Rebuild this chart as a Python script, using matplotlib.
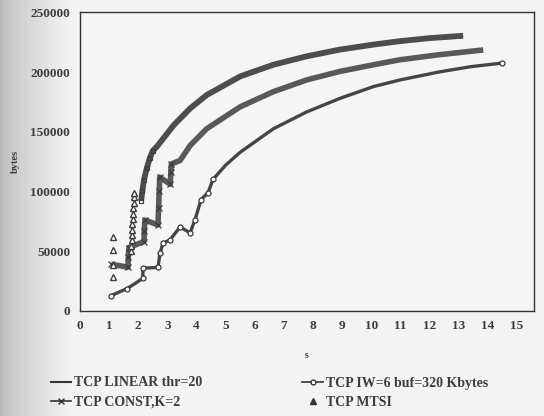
import numpy as np
import matplotlib
matplotlib.use('Agg')
import matplotlib.pyplot as plt
from matplotlib.lines import Line2D

# time (s) / received bytes for each TCP variant
lin_x = [2.1, 2.14, 2.2, 2.3, 2.4, 2.5, 2.64, 3.21, 3.78, 4.35, 5.5, 6.64, 7.79,
         8.93, 10.08, 11.0, 12.0, 13.16]
lin_y = [92000, 100000, 110000, 120000, 128000, 134000, 137500, 155300, 169500,
         180800, 196400, 206200, 213300, 218900, 223100, 226000, 228500, 230500]

const_x = [1.07, 1.65, 1.66, 1.68, 2.2, 2.21, 2.23, 2.68, 2.7, 2.72, 2.74, 3.1,
           3.12, 3.14, 3.44, 3.78, 4.35, 5.5, 6.64, 7.79, 8.93, 10.08, 11.0, 12.3,
           13.85]
const_y = [39000, 36500, 45000, 53000, 58000, 67000, 76000, 72000, 86000, 100000,
           112000, 106000, 116000, 123000, 126000, 138400, 152500, 170900, 183600,
           193500, 200600, 206200, 210400, 214500, 218600]

iw_x = [1.07, 1.62, 2.16, 2.16, 2.68, 2.75, 2.85, 3.09, 3.44, 3.78, 3.95, 4.16,
        4.40, 4.57, 5.0, 5.5, 6.64, 7.79, 8.93, 10.08, 11.0, 12.3, 13.4, 14.5]
iw_y = [12700, 18600, 27100, 35600, 36400, 48300, 56700, 59300, 70300, 65200,
        76200, 93200, 99100, 110100, 122000, 132800, 152500, 166700, 178000,
        187900, 193500, 200000, 204500, 207600]

mtsi_x = [1.13, 1.13, 1.13, 1.13, 1.75, 1.76, 1.77, 1.78, 1.79, 1.8, 1.81, 1.82,
          1.83, 1.84, 1.85, 1.86]
mtsi_y = [28000, 38000, 51000, 62000, 50000, 54500, 59000, 63500, 68000, 72500,
          77000, 81500, 86000, 90500, 95000, 98500]

xticks = list(range(0, 16))
yticks = [0, 50000, 100000, 150000, 200000, 250000]

ink = '#3c3c3c'
serif = ['Liberation Serif', 'DejaVu Serif']

fig = plt.figure(figsize=(5.44, 4.16), dpi=100)
fig.patch.set_facecolor('#f1f1f1')

# scanner shading along the left edge
bg = fig.add_axes([0, 0, 1, 1], zorder=-5)
grad = np.linspace(0, 1, 544)
shade = 0.72 + 0.23 * np.clip(grad / 0.13, 0, 1) ** 0.7
bg.imshow(np.tile(shade, (10, 1)), cmap='gray', vmin=0, vmax=1, aspect='auto',
          extent=[0, 1, 0, 1])
bg.axis('off')

ax = fig.add_axes([0.147, 0.253, 0.835, 0.717])
ax.set_facecolor('#f5f5f5')

ax.plot(lin_x, lin_y, '-', color='#4d4d4d', lw=4.2, solid_capstyle='butt',
        marker='s', ms=3.2, mfc='none', mec=ink, mew=0.8, markevery=list(range(6)))
ax.plot(const_x, const_y, '-', color='#595959', lw=4.0, solid_capstyle='butt',
        marker='x', ms=4, mec=ink, mew=0.9, markevery=list(range(14)))
ax.plot(iw_x, iw_y, '-', color='#454545', lw=2.4, marker='o', ms=3.6, mfc='white',
        mec=ink, mew=0.9, markevery=list(range(14)) + [len(iw_x) - 1])
ax.plot(mtsi_x, mtsi_y, linestyle='none', marker='^', ms=4, mfc='white', mec=ink,
        mew=1.0)

ax.set_xlim(0, 15.6)
ax.set_ylim(0, 250000)
ax.set_xticks(xticks)
ax.set_yticks(yticks)
ax.tick_params(length=0, labelsize=9.5, colors=ink, pad=7)
for lab in ax.get_xticklabels() + ax.get_yticklabels():
    lab.set_family(serif)
    lab.set_weight('bold')
for sp in ax.spines.values():
    sp.set_color('#333333')
    sp.set_linewidth(1.0)

ax.set_xlabel('s', fontsize=7, family=serif, weight='bold', color=ink, labelpad=13)
ax.set_ylabel('bytes', fontsize=7.5, family=serif, weight='bold', color=ink, labelpad=8)

h_lin = Line2D([], [], color='#333333', lw=1.5)
h_iw = Line2D([], [], color='#333333', lw=1.2, marker='o', ms=3.5, mfc='white',
              mec='#333333')
h_const = Line2D([], [], color='#333333', lw=1.2, marker='x', ms=4, mec='#333333')
h_mtsi = Line2D([], [], linestyle='none', marker='^', ms=4.5, color='#333333')
fig.legend([h_lin, h_const, h_iw, h_mtsi],
           ['TCP LINEAR thr=20', 'TCP CONST,K=2', 'TCP IW=6 buf=320 Kbytes', 'TCP MTSI'],
           loc='upper left', bbox_to_anchor=(0.07, 0.125), ncol=2, frameon=False,
           columnspacing=7.2, handlelength=1.5, handletextpad=0.2, labelspacing=0.45,
           prop={'family': serif, 'weight': 'bold', 'size': 10}, labelcolor=ink)

fig.savefig('out.png', dpi=100, facecolor=fig.get_facecolor())
